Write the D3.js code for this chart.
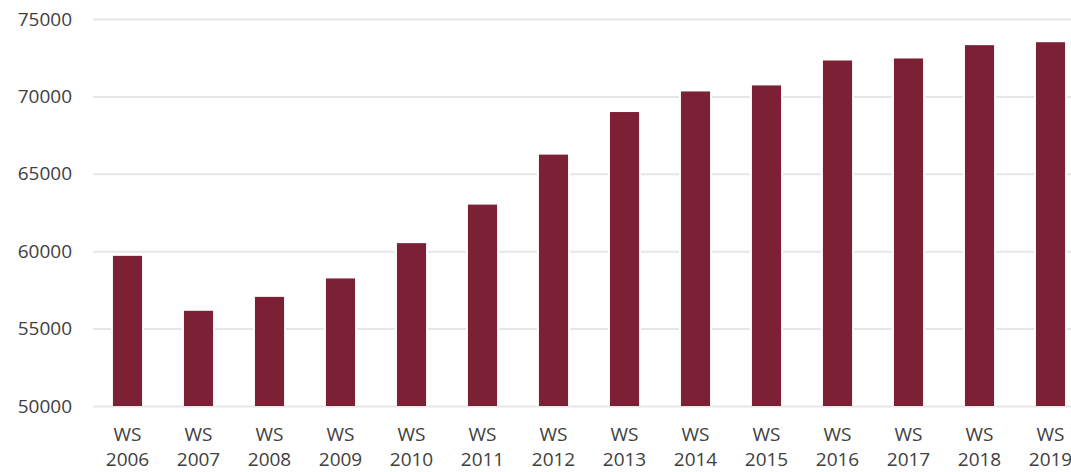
<!DOCTYPE html>
<html>
<head>
<meta charset="utf-8">
<script src="https://cdn.jsdelivr.net/npm/d3@7/dist/d3.min.js"></script>
<style>
html,body{margin:0;padding:0;background:#fff;}
svg{display:block;}
.tick text{font-family:"Open Sans",sans-serif;font-size:19px;fill:#404040;}
</style>
</head>
<body>
<svg id="chart" width="1071" height="472"></svg>
<script>
const categories = ["WS 2006","WS 2007","WS 2008","WS 2009","WS 2010","WS 2011","WS 2012","WS 2013","WS 2014","WS 2015","WS 2016","WS 2017","WS 2018","WS 2019"];
const values = [59700, 56150, 57050, 58240, 60520, 63010, 66240, 68990, 70320, 70710, 72320, 72450, 73310, 73500];
const yTicks = [50000, 55000, 60000, 65000, 70000, 75000];

(function(){
const svg = d3.select("#chart");
const W = 1071;
const mLeft = 92, mRight = 1086, mTop = 19, mBottom = 406;

const x = d3.scaleBand().domain(categories).range([mLeft, mRight]).paddingInner(0.59).paddingOuter(0.295);
const y = d3.scaleLinear().domain([50000, 75000]).range([mBottom, mTop]);

const yAxis = svg.append("g")
  .attr("transform", `translate(${mLeft+1},0)`)
  .call(d3.axisLeft(y).tickValues(yTicks).tickFormat(d3.format("d")).tickSize(-(W - mLeft)).tickPadding(21));
yAxis.select(".domain").remove();
yAxis.selectAll(".tick line").attr("stroke", "#e6e6e6").attr("stroke-width", 2);

svg.append("g").selectAll("rect").data(values).join("rect")
  .attr("x", (d,i) => x(categories[i]) - 2)
  .attr("y", d => y(d) - 2)
  .attr("width", x.bandwidth() + 4)
  .attr("height", d => mBottom - y(d) + 1)
  .attr("fill", "#fff");

svg.append("g").selectAll("rect").data(values).join("rect")
  .attr("x", (d,i) => x(categories[i]))
  .attr("y", d => y(d))
  .attr("width", x.bandwidth())
  .attr("height", d => mBottom - y(d))
  .attr("fill", "#7c2135");

const xAxis = svg.append("g")
  .attr("transform", `translate(0,${mBottom})`)
  .call(d3.axisBottom(x).tickSize(0).tickFormat(""));
xAxis.select(".domain").remove();
xAxis.selectAll(".tick text").each(function(d){
  const parts = d.split(" ");
  const t = d3.select(this).text(null).attr("y", 0).attr("dy", null);
  t.append("tspan").attr("x", 0).attr("y", 35).text(parts[0]);
  t.append("tspan").attr("x", 0).attr("y", 60).text(parts[1]);
});
})();
</script>
</body>
</html>
